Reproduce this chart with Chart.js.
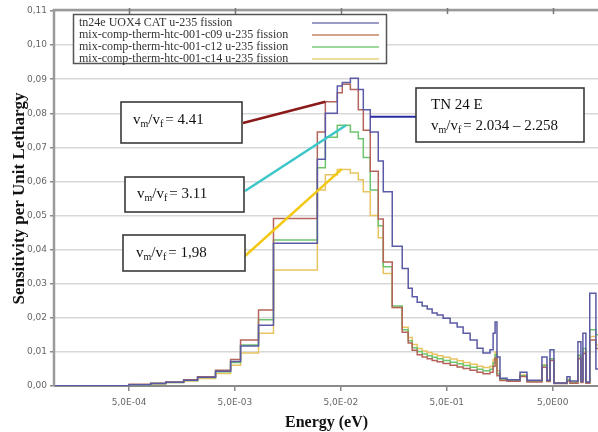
<!DOCTYPE html>
<html><head><meta charset="utf-8">
<script src="https://cdn.jsdelivr.net/npm/chart.js@4"></script>
<style>html,body{margin:0;padding:0;background:#fff}canvas{display:block}</style>
</head><body>
<canvas id="c" width="598" height="432"></canvas>
<script>
// ---------- DATA ----------
const seriesNames = [
  'tn24e UOX4 CAT u-235 fission',
  'mix-comp-therm-htc-001-c09 u-235 fission',
  'mix-comp-therm-htc-001-c12 u-235 fission',
  'mix-comp-therm-htc-001-c14 u-235 fission'
];
// energy group boundaries (eV)
const energyEdges = [1e-4, 5e-4, 8e-4, 1.11e-3, 1.64e-3, 2.22e-3, 3.28e-3, 4.55e-3, 5.65e-3, 8.35e-3,
  1.156e-2, 3.0e-2, 3.57e-2, 4.63e-2, 5.16e-2, 6.15e-2, 7.31e-2, 8.15e-2, 9.48e-2, 0.1128,
  0.1258, 0.1529, 0.1899, 0.2163, 0.236, 0.263, 0.293, 0.327, 0.364, 0.406,
  0.462, 0.538, 0.627, 0.714, 0.831, 0.967, 1.10, 1.28, 1.37, 1.43,
  1.49, 1.59, 1.855, 2.46, 2.86, 3.96, 4.42, 4.72, 5.14, 6.82,
  7.28, 8.66, 9.24, 9.65, 10.3, 11.2, 12.8, 13.4];
// sensitivity per unit lethargy, one value per group
const tn24e = [0.0001, 0.0004, 0.0007, 0.0011, 0.0017, 0.0026, 0.0043, 0.0072, 0.0117, 0.0178,
  0.0419, 0.0665, 0.080, 0.088, 0.089, 0.0903, 0.087, 0.081, 0.0745, 0.066,
  0.057, 0.041, 0.0345, 0.0287, 0.0262, 0.0246, 0.0235, 0.0226, 0.0214, 0.0208,
  0.0199, 0.0185, 0.0173, 0.0155, 0.0135, 0.0111, 0.0097, 0.0106, 0.0155, 0.0188,
  0.0085, 0.0023, 0.0018, 0.004, 0.0017, 0.0085, 0.0017, 0.0106, 0.0009, 0.0027,
  0.0015, 0.013, 0.0015, 0.0155, 0.0012, 0.0272, 0.005];
const c09 = [0.0001, 0.0005, 0.0008, 0.0012, 0.0018, 0.0027, 0.0046, 0.0078, 0.0135, 0.0223,
  0.0491, 0.0745, 0.0834, 0.086, 0.0885, 0.087, 0.081, 0.075, 0.063, 0.049,
  0.0364, 0.023, 0.0158, 0.0126, 0.0105, 0.0092, 0.0085, 0.008, 0.0075, 0.0071,
  0.0066, 0.0061, 0.0056, 0.0051, 0.0046, 0.004, 0.0036, 0.004, 0.0058, 0.0082,
  0.003, 0.0016, 0.0014, 0.0028, 0.0012, 0.0055, 0.0013, 0.0075, 0.0007, 0.0015,
  0.0008, 0.008, 0.001, 0.0095, 0.0008, 0.0135, 0.011];
const c12 = [0.0001, 0.0004, 0.0007, 0.001, 0.0016, 0.0025, 0.0042, 0.0069, 0.012, 0.0194,
  0.0428, 0.064, 0.073, 0.0765, 0.0765, 0.0745, 0.0725, 0.067, 0.0575, 0.047,
  0.035, 0.0235, 0.0165, 0.0133, 0.0112, 0.0101, 0.0094, 0.0089, 0.0084, 0.008,
  0.0075, 0.007, 0.0065, 0.006, 0.0055, 0.0049, 0.0045, 0.0049, 0.0068, 0.0092,
  0.0036, 0.0018, 0.0016, 0.003, 0.0014, 0.006, 0.0014, 0.008, 0.0008, 0.0018,
  0.001, 0.009, 0.0012, 0.011, 0.001, 0.0165, 0.015];
const c14 = [0.0001, 0.0004, 0.0006, 0.001, 0.0015, 0.0022, 0.0037, 0.0061, 0.0097, 0.0155,
  0.034, 0.0575, 0.062, 0.0635, 0.0635, 0.0625, 0.0605, 0.057, 0.050, 0.0435,
  0.033, 0.023, 0.0172, 0.0142, 0.0122, 0.011, 0.0103, 0.0098, 0.0093, 0.0089,
  0.0084, 0.0079, 0.0074, 0.0069, 0.0064, 0.0058, 0.0054, 0.0058, 0.0078, 0.010,
  0.0045, 0.002, 0.0018, 0.0032, 0.0015, 0.0062, 0.0015, 0.008, 0.0009, 0.002,
  0.0012, 0.0085, 0.0013, 0.01, 0.001, 0.0145, 0.012];
const xTickValues = [5e-4, 5e-3, 5e-2, 5e-1, 5];
const xTickLabels = ['5,0E-04', '5,0E-03', '5,0E-02', '5,0E-01', '5,0E00'];
const yTickLabels = ['0,00','0,01','0,02','0,03','0,04','0,05','0,06','0,07','0,08','0,09','0,10','0,11'];

// ---------- STYLE ----------
const colors = ['#5a5aa6', '#b4645a', '#6cc46c', '#e8c460'];
const legendColors = ['#7a7ab4', '#c8846a', '#7ccc7c', '#ecd27a'];

function stepPoints(vals) {
  const pts = vals.map((v, i) => ({ x: energyEdges[i], y: v }));
  pts.push({ x: energyEdges[vals.length], y: vals[vals.length - 1] });
  return pts;
}

const allSeries = [tn24e, c09, c12, c14];

// annotation boxes (pixel placement) with connectors to points on curves (data coords)
const notes = [
  { box: [121, 102, 121, 41], text: '= 4.41', tx: 133, ty: 124, color: '#8b1a1a', from: [243, 123], to: [3.57e-2, 0.0834] },
  { box: [125, 177, 119, 35], text: '= 3.11', tx: 137, ty: 198, color: '#3cc6c8', from: [245, 191], to: [5.6e-2, 0.0765] },
  { box: [123, 235, 122, 36], text: '= 1,98', tx: 136, ty: 257, color: '#f2c814', from: [245, 256], to: [5.1e-2, 0.0636] }
];

const overlay = {
  id: 'overlay',
  afterDraw(chart) {
    const ctx = chart.ctx, xs = chart.scales.x, ys = chart.scales.y, ca = chart.chartArea;
    ctx.save();
    // frame
    ctx.strokeStyle = '#9a9a9a'; ctx.lineWidth = 2.5;
    ctx.beginPath(); ctx.moveTo(ca.left - 1, ca.bottom); ctx.lineTo(ca.left - 1, ca.top - 1); ctx.lineTo(ca.right, ca.top - 1); ctx.stroke();
    // top tick marks
    ctx.strokeStyle = '#777'; ctx.lineWidth = 1.5;
    xTickValues.forEach(v => {
      const px = Math.round(xs.getPixelForValue(v)) + 0.5;
      ctx.beginPath(); ctx.moveTo(px, ca.top - 3); ctx.lineTo(px, ca.top + 3); ctx.stroke();
    });
    // legend
    const lx = 73, ly = 14, lw = 313, lh = 49;
    ctx.fillStyle = '#fff'; ctx.fillRect(lx, ly, lw, lh);
    ctx.strokeStyle = '#555'; ctx.lineWidth = 1.5; ctx.strokeRect(lx + 0.5, ly + 0.5, lw, lh);
    ctx.font = '12px "Liberation Serif"'; ctx.textBaseline = 'middle'; ctx.textAlign = 'left';
    seriesNames.forEach((n, i) => {
      const yy = ly + 9 + i * 12;
      ctx.fillStyle = '#333'; ctx.fillText(n, lx + 6, yy);
      ctx.strokeStyle = legendColors[i]; ctx.lineWidth = 1.5;
      ctx.beginPath(); ctx.moveTo(312, yy); ctx.lineTo(379, yy); ctx.stroke();
    });
    // connectors
    ctx.lineCap = 'butt';
    notes.forEach(n => {
      ctx.strokeStyle = n.color; ctx.lineWidth = 2.5;
      ctx.beginPath(); ctx.moveTo(n.from[0], n.from[1]);
      ctx.lineTo(xs.getPixelForValue(n.to[0]), ys.getPixelForValue(n.to[1])); ctx.stroke();
    });
    const by = ys.getPixelForValue(0.0790);
    ctx.strokeStyle = '#2a2aa2'; ctx.lineWidth = 2;
    ctx.beginPath(); ctx.moveTo(xs.getPixelForValue(9.48e-2), by); ctx.lineTo(416, by); ctx.stroke();
    // boxes
    function vText(x, y, rest) {
      ctx.textBaseline = 'alphabetic'; ctx.fillStyle = '#111';
      const big = '15px "Liberation Serif"', small = '10px "Liberation Serif"';
      ctx.font = big; ctx.fillText('v', x, y); x += ctx.measureText('v').width;
      ctx.font = small; ctx.fillText('m', x, y + 3); x += ctx.measureText('m').width;
      ctx.font = big; ctx.fillText('/v', x, y); x += ctx.measureText('/v').width;
      ctx.font = small; ctx.fillText('f', x, y + 3); x += ctx.measureText('f').width + 2;
      ctx.font = big; ctx.fillText(rest, x, y);
    }
    function box(x, y, w, h) {
      ctx.fillStyle = '#fff'; ctx.fillRect(x, y, w, h);
      ctx.strokeStyle = '#3a3a3a'; ctx.lineWidth = 1.6; ctx.strokeRect(x, y, w, h);
    }
    notes.forEach(n => { box(...n.box); vText(n.tx, n.ty, n.text); });
    box(416, 88, 168, 54);
    ctx.font = '15px "Liberation Serif"'; ctx.fillStyle = '#111'; ctx.textBaseline = 'alphabetic';
    ctx.fillText('TN 24 E', 431, 109);
    vText(431, 130, '= 2.034 \u2013 2.258');
    ctx.restore();
  }
};

new Chart(document.getElementById('c'), {
  type: 'line',
  data: {
    datasets: allSeries.map((s, i) => ({
      label: seriesNames[i],
      data: stepPoints(s),
      borderColor: colors[i],
      borderWidth: 1.5,
      pointRadius: 0,
      stepped: 'before',
      fill: false
    }))
  },
  options: {
    responsive: false,
    animation: false,
    layout: { padding: { top: 11, right: 0, left: 0, bottom: 0 } },
    plugins: { legend: { display: false }, tooltip: { enabled: false } },
    scales: {
      x: {
        type: 'logarithmic', min: 1e-4, max: 13.4,
        afterBuildTicks: s => { s.ticks = xTickValues.map(v => ({ value: v })); },
        afterFit: s => { s.height = 46; },
        ticks: { callback: (v, i) => xTickLabels[i], font: { family: 'DejaVu Sans', size: 9 }, color: '#666', maxRotation: 0, autoSkip: false, padding: 6 },
        grid: { drawOnChartArea: false, tickLength: 5, tickColor: '#888', color: '#888', lineWidth: 1.5 },
        border: { display: true, color: '#8a8a8a', width: 2 },
        title: { display: true, text: 'Energy (eV)', font: { family: 'Liberation Serif', size: 16, weight: 'bold' }, color: '#111', padding: { top: 1, bottom: 0 } }
      },
      y: {
        min: 0, max: 0.11,
        afterFit: s => { s.width = 55; },
        ticks: { stepSize: 0.01, callback: v => yTickLabels[Math.round(v * 100)], font: { family: 'DejaVu Sans', size: 9 }, color: '#666', padding: 3 },
        grid: { color: '#d8d8d8', lineWidth: 1.5, tickLength: 5, tickColor: '#888' },
        border: { display: false },
        title: { display: true, text: 'Sensitivity per Unit Lethargy', font: { family: 'Liberation Serif', size: 17, weight: 'bold' }, color: '#111', padding: { top: 9, bottom: 0 } }
      }
    }
  },
  plugins: [overlay]
});
</script>
</body></html>
